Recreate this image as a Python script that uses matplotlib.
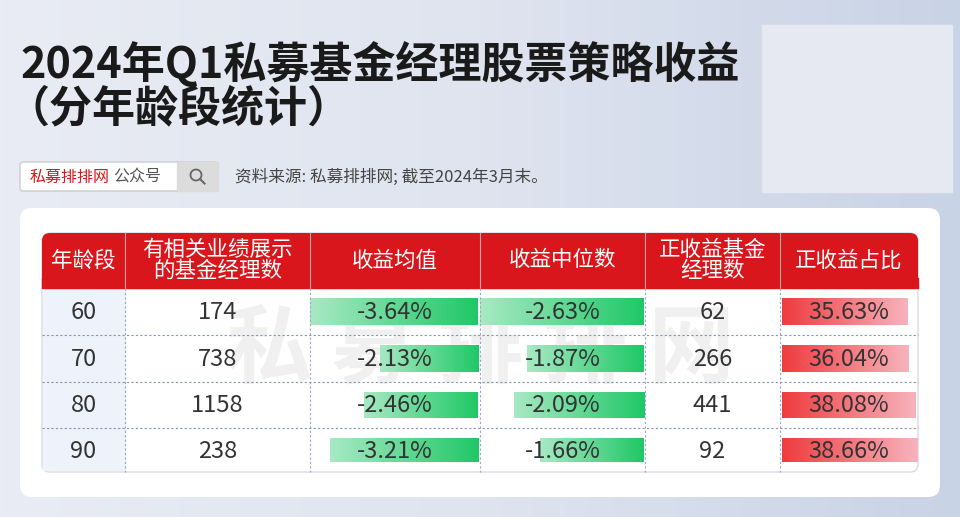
import matplotlib
matplotlib.use("Agg")
import matplotlib.pyplot as plt
import numpy as np
from matplotlib.patches import FancyBboxPatch, Rectangle, Circle
from matplotlib.colors import LinearSegmentedColormap

plt.rcParams['font.family'] = ['Noto Sans CJK SC', 'DejaVu Sans']

headers = ["年龄段", "有相关业绩展示\n的基金经理数", "收益均值", "收益中位数", "正收益基金\n经理数", "正收益占比"]
ages = ["60", "70", "80", "90"]
counts = [174, 738, 1158, 238]
mean_ret = [-3.64, -2.13, -2.46, -3.21]
median_ret = [-2.63, -1.87, -2.09, -1.66]
pos_counts = [62, 266, 441, 92]
pos_ratio = [35.63, 36.04, 38.08, 38.66]

fig = plt.figure(figsize=(9.6, 5.17), dpi=100)
ax = fig.add_axes([0, 0, 1, 1])
ax.set_xlim(0, 960); ax.set_ylim(517, 0); ax.axis('off')

bg = np.linspace(0, 1, 256).reshape(1, -1)
bgcm = LinearSegmentedColormap.from_list('bg', ['#e9ecf4', '#dfe4ef', '#c9d3e6'])
ax.imshow(bg, extent=[0, 960, 517, 0], cmap=bgcm, aspect='auto', zorder=0)
ax.add_patch(Rectangle((762, 25), 190, 167, color='#e6e9f2', zorder=1))

ax.text(20, 64, "2024年Q1私募基金经理股票策略收益", fontsize=31, fontweight='heavy', color='#1a1a1a', va='center', zorder=2)
ax.text(6, 108, "（分年龄段统计）", fontsize=31, fontweight='heavy', color='#1a1a1a', va='center', zorder=2)

ax.add_patch(FancyBboxPatch((20, 162), 198, 29, boxstyle="round,pad=0,rounding_size=3", fc='white', ec='#cccccc', lw=1, zorder=2))
ax.add_patch(Rectangle((177, 162), 41, 29, color='#dcdcdc', zorder=3))
ax.add_patch(Circle((196, 175), 5.5, fc='none', ec='#666666', lw=1.3, zorder=4))
ax.plot([200, 204.5], [179, 183.5], color='#666666', lw=1.5, zorder=4)
ax.text(30, 177, "私募排排网", fontsize=11.5, color='#d9161c', va='center', zorder=4)
ax.text(113, 177, "公众号", fontsize=11.5, color='#555555', va='center', zorder=4)
ax.text(235, 177, "资料来源: 私募排排网; 截至2024年3月末。", fontsize=12, color='#444444', va='center', zorder=4)

ax.add_patch(FancyBboxPatch((20, 208), 920, 289, boxstyle="round,pad=0,rounding_size=12", fc='white', ec='none', zorder=2))

cols = [42, 125, 310, 480, 645, 780, 918]
hy0, hy1 = 233, 288
rows = [288, 335, 382, 428, 472]

ax.add_patch(FancyBboxPatch((42, hy0), 876, 239, boxstyle="round,pad=0,rounding_size=8", fc='white', ec='#d8dbe3', lw=1, zorder=2.5))
ax.add_patch(FancyBboxPatch((42, hy0), 876, hy1 - hy0, boxstyle="round,pad=0,rounding_size=8", fc='#d9161c', ec='none', zorder=3))
ax.add_patch(Rectangle((42, hy1 - 10), 876, 10, color='#d9161c', zorder=3))
ax.add_patch(Rectangle((43, hy1), 82, rows[-1] - hy1 - 2, color='#eef2fa', zorder=2.6))

for i, h in enumerate(headers):
    cx = (cols[i] + cols[i + 1]) / 2
    ax.text(cx, (hy0 + hy1) / 2, h, fontsize=15.5, color='white', ha='center', va='center', linespacing=0.95, zorder=4)
for x in cols[1:-1]:
    ax.plot([x, x], [hy0, hy1], color='#f0a0a0', lw=0.8, zorder=4)
    ax.plot([x, x], [hy1, rows[-1]], color='#9aa6c8', lw=0.8, ls=(0, (2, 2)), zorder=4)
for y in rows[1:-1]:
    ax.plot([42, 918], [y, y], color='#8a93b0', lw=0.8, ls=(0, (2, 2)), zorder=4)

ax.text(480, 350, "私 募 排 排 网", fontsize=62, fontweight='heavy', color='#888888', alpha=0.12, ha='center', va='center', zorder=3.5)

grad = np.linspace(0, 1, 256).reshape(1, -1)
gcm = LinearSegmentedColormap.from_list('g', ['#a8e9c4', '#1fc866'])
rcm = LinearSegmentedColormap.from_list('r', ['#ef3b3e', '#f7b3bd'])

def bar_img(x0, x1, y0, y1, cm):
    ax.imshow(grad, extent=[x0, x1, y1, y0], cmap=cm, aspect='auto', zorder=3.6)

mx_mean = max(abs(v) for v in mean_ret)
mx_med = max(abs(v) for v in median_ret)
mx_ratio = max(pos_ratio)
for r in range(4):
    y0, y1 = rows[r], rows[r + 1]
    cy = (y0 + y1) / 2
    bh0, bh1 = y0 + 10, y1 - 10
    w = abs(mean_ret[r]) / mx_mean * 168
    bar_img(cols[3] - 2 - w, cols[3] - 2, bh0, bh1, gcm)
    w = abs(median_ret[r]) / mx_med * 164
    bar_img(cols[4] - 1 - w, cols[4] - 1, bh0, bh1, gcm)
    w = pos_ratio[r] / mx_ratio * 136
    bar_img(cols[5] + 2, cols[5] + 2 + w, bh0, bh1, rcm)
    vals = [ages[r], str(counts[r]), f"{mean_ret[r]:.2f}%", f"{median_ret[r]:.2f}%", str(pos_counts[r]), f"{pos_ratio[r]:.2f}%"]
    for i, v in enumerate(vals):
        cx = (cols[i] + cols[i + 1]) / 2
        ax.text(cx, cy + 1, v, fontsize=17, color='#333333', ha='center', va='center', zorder=5)

fig.savefig("out.png", dpi=100)
